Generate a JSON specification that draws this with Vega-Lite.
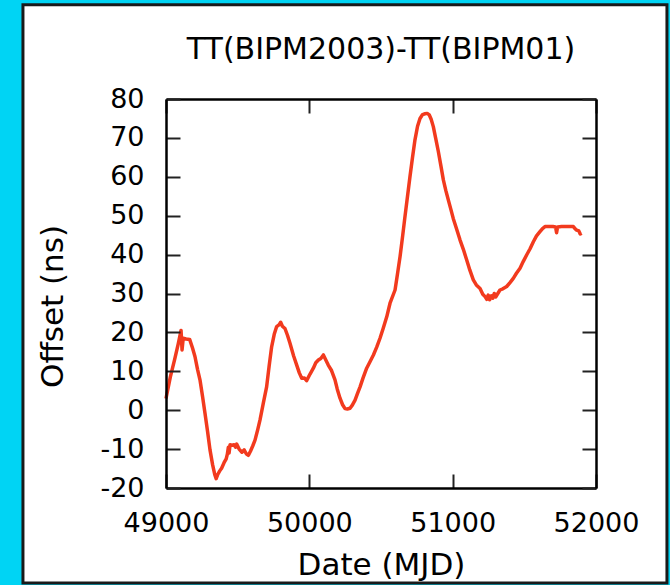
{
  "$schema": "https://vega.github.io/schema/vega-lite/v6.json",
  "width": 430,
  "height": 389,
  "autosize": {"type": "none"},
  "padding": {"left": 166, "top": 99, "right": 74, "bottom": 97},
  "background": "#00d4f4",
  "title": {"text": "TT(BIPM2003)-TT(BIPM01)", "font": "DejaVu Sans", "fontSize": 30, "fontWeight": "normal", "color": "#000000", "offset": 0, "dy": 62, "anchor": "middle", "frame": "group", "zindex": 2},
  "config": {
    "view": {"stroke": null},
    "axis": {"grid": false, "domainColor": "#000000", "domainWidth": 2.5, "tickColor": "#222222", "tickWidth": 2, "tickSize": -14, "labelFont": "DejaVu Sans", "labelFontSize": 27, "labelColor": "#000000", "labelFlush": false, "titleFont": "DejaVu Sans", "titleFontSize": 31, "titleFontWeight": "normal", "titleColor": "#000000"}
  },
  "resolve": {"axis": {"x": "independent", "y": "independent"}},
  "layer": [
    {
      "data": {"values": [{"panel": "frame"}]},
      "mark": {"type": "rect", "fill": "#ffffff", "stroke": "#1a1a1a", "strokeWidth": 3, "zindex": 0},
      "encoding": {
        "x": {"datum": 48002, "type": "quantitative", "scale": {"domain": [49000, 52000], "nice": false, "zero": false}, "axis": {"orient": "top", "labels": false, "title": null, "values": [49000, 50000, 51000, 52000], "zindex": 2}},
        "x2": {"datum": 52495},
        "y": {"datum": 104.2, "type": "quantitative", "scale": {"domain": [-20, 80], "nice": false, "zero": false}, "axis": {"orient": "right", "labels": false, "title": null, "values": [-20, -10, 0, 10, 20, 30, 40, 50, 60, 70, 80], "zindex": 2}},
        "y2": {"datum": -44.4}
      }
    },
    {
      "data": {"values": [
        {"mjd": 49000, "offset": 3}, {"mjd": 49030, "offset": 8.5}, {"mjd": 49060, "offset": 13}, {"mjd": 49085, "offset": 17}, {"mjd": 49105, "offset": 20.5}, {"mjd": 49112, "offset": 15.5}, {"mjd": 49120, "offset": 18.5}, {"mjd": 49140, "offset": 18.3}, {"mjd": 49165, "offset": 18.2}, {"mjd": 49185, "offset": 16}, {"mjd": 49202, "offset": 13.8}, {"mjd": 49220, "offset": 10.5}, {"mjd": 49237, "offset": 7.8}, {"mjd": 49255, "offset": 3.5}, {"mjd": 49272, "offset": -0.8}, {"mjd": 49290, "offset": -5.5}, {"mjd": 49307, "offset": -10.2}, {"mjd": 49325, "offset": -14}, {"mjd": 49340, "offset": -16.5}, {"mjd": 49350, "offset": -17.6}, {"mjd": 49360, "offset": -16.6}, {"mjd": 49375, "offset": -15.6}, {"mjd": 49388, "offset": -14.9}, {"mjd": 49405, "offset": -13.5}, {"mjd": 49420, "offset": -12.5}, {"mjd": 49428, "offset": -11.3}, {"mjd": 49435, "offset": -9.5}, {"mjd": 49440, "offset": -11}, {"mjd": 49447, "offset": -8.9}, {"mjd": 49460, "offset": -9.0}, {"mjd": 49475, "offset": -8.9}, {"mjd": 49485, "offset": -9.5}, {"mjd": 49493, "offset": -8.7}, {"mjd": 49510, "offset": -10.0}, {"mjd": 49530, "offset": -10.8}, {"mjd": 49545, "offset": -10.2}, {"mjd": 49560, "offset": -11.2}, {"mjd": 49575, "offset": -11.6}, {"mjd": 49590, "offset": -10.5}, {"mjd": 49605, "offset": -9.2}, {"mjd": 49621, "offset": -7.7}, {"mjd": 49640, "offset": -5}, {"mjd": 49656, "offset": -2.5}, {"mjd": 49680, "offset": 2}, {"mjd": 49702, "offset": 6.0}, {"mjd": 49720, "offset": 11.5}, {"mjd": 49737, "offset": 16.3}, {"mjd": 49755, "offset": 19.5}, {"mjd": 49772, "offset": 21.5}, {"mjd": 49790, "offset": 22}, {"mjd": 49800, "offset": 22.6}, {"mjd": 49812, "offset": 21.6}, {"mjd": 49830, "offset": 21}, {"mjd": 49848, "offset": 19.2}, {"mjd": 49865, "offset": 17.2}, {"mjd": 49890, "offset": 14}, {"mjd": 49912, "offset": 11.6}, {"mjd": 49930, "offset": 9.6}, {"mjd": 49947, "offset": 8.2}, {"mjd": 49965, "offset": 8.3}, {"mjd": 49981, "offset": 7.6}, {"mjd": 50005, "offset": 9.3}, {"mjd": 50028, "offset": 10.8}, {"mjd": 50045, "offset": 12.2}, {"mjd": 50063, "offset": 12.9}, {"mjd": 50080, "offset": 13.3}, {"mjd": 50098, "offset": 14.2}, {"mjd": 50115, "offset": 12.9}, {"mjd": 50132, "offset": 11.6}, {"mjd": 50155, "offset": 10.2}, {"mjd": 50179, "offset": 7.8}, {"mjd": 50195, "offset": 5.4}, {"mjd": 50214, "offset": 3.1}, {"mjd": 50232, "offset": 1.4}, {"mjd": 50249, "offset": 0.4}, {"mjd": 50265, "offset": 0.3}, {"mjd": 50284, "offset": 0.5}, {"mjd": 50300, "offset": 1.3}, {"mjd": 50319, "offset": 2.6}, {"mjd": 50335, "offset": 4.2}, {"mjd": 50354, "offset": 6.0}, {"mjd": 50375, "offset": 8.3}, {"mjd": 50400, "offset": 10.8}, {"mjd": 50425, "offset": 12.6}, {"mjd": 50447, "offset": 14.2}, {"mjd": 50470, "offset": 16.2}, {"mjd": 50493, "offset": 18.5}, {"mjd": 50515, "offset": 21}, {"mjd": 50540, "offset": 24.0}, {"mjd": 50563, "offset": 27.5}, {"mjd": 50598, "offset": 30.9}, {"mjd": 50615, "offset": 35}, {"mjd": 50633, "offset": 39.5}, {"mjd": 50650, "offset": 44.5}, {"mjd": 50667, "offset": 49.7}, {"mjd": 50685, "offset": 55}, {"mjd": 50702, "offset": 60.0}, {"mjd": 50720, "offset": 65}, {"mjd": 50737, "offset": 69.5}, {"mjd": 50755, "offset": 73}, {"mjd": 50772, "offset": 75.0}, {"mjd": 50790, "offset": 76}, {"mjd": 50807, "offset": 76.2}, {"mjd": 50822, "offset": 76.3}, {"mjd": 50837, "offset": 75.9}, {"mjd": 50850, "offset": 74.8}, {"mjd": 50865, "offset": 72.9}, {"mjd": 50882, "offset": 69.8}, {"mjd": 50900, "offset": 66.5}, {"mjd": 50918, "offset": 62.8}, {"mjd": 50935, "offset": 59.2}, {"mjd": 50952, "offset": 56.5}, {"mjd": 50970, "offset": 54.0}, {"mjd": 50987, "offset": 51.7}, {"mjd": 51004, "offset": 49.3}, {"mjd": 51028, "offset": 46.5}, {"mjd": 51051, "offset": 43.8}, {"mjd": 51075, "offset": 41.3}, {"mjd": 51098, "offset": 38.6}, {"mjd": 51120, "offset": 36}, {"mjd": 51144, "offset": 33.5}, {"mjd": 51165, "offset": 32.2}, {"mjd": 51191, "offset": 31.3}, {"mjd": 51210, "offset": 29.8}, {"mjd": 51226, "offset": 29.2}, {"mjd": 51238, "offset": 28.5}, {"mjd": 51248, "offset": 29.6}, {"mjd": 51258, "offset": 28.4}, {"mjd": 51270, "offset": 29.4}, {"mjd": 51280, "offset": 28.8}, {"mjd": 51290, "offset": 30.0}, {"mjd": 51300, "offset": 29.1}, {"mjd": 51315, "offset": 30.0}, {"mjd": 51330, "offset": 30.9}, {"mjd": 51350, "offset": 31.2}, {"mjd": 51377, "offset": 31.8}, {"mjd": 51400, "offset": 32.8}, {"mjd": 51423, "offset": 33.9}, {"mjd": 51445, "offset": 35.2}, {"mjd": 51470, "offset": 36.5}, {"mjd": 51492, "offset": 38.2}, {"mjd": 51516, "offset": 39.9}, {"mjd": 51540, "offset": 41.5}, {"mjd": 51563, "offset": 43.3}, {"mjd": 51585, "offset": 44.8}, {"mjd": 51609, "offset": 45.9}, {"mjd": 51627, "offset": 46.7}, {"mjd": 51644, "offset": 47.2}, {"mjd": 51670, "offset": 47.2}, {"mjd": 51700, "offset": 47.2}, {"mjd": 51718, "offset": 47.1}, {"mjd": 51725, "offset": 45.6}, {"mjd": 51732, "offset": 47.1}, {"mjd": 51760, "offset": 47.2}, {"mjd": 51800, "offset": 47.2}, {"mjd": 51842, "offset": 47.2}, {"mjd": 51855, "offset": 46.6}, {"mjd": 51865, "offset": 46.3}, {"mjd": 51880, "offset": 46.1}, {"mjd": 51890, "offset": 45.3}, {"mjd": 51900, "offset": 45.5}
      ]},
      "mark": {"type": "line", "color": "#f23a1e", "strokeWidth": 3.5, "strokeJoin": "round", "zindex": 1},
      "encoding": {
        "x": {"field": "mjd", "type": "quantitative", "axis": {"orient": "bottom", "title": "Date (MJD)", "values": [49000, 50000, 51000, 52000], "format": "d", "labelPadding": 36, "titlePadding": 14, "zindex": 2}},
        "y": {"field": "offset", "type": "quantitative", "axis": {"orient": "left", "title": "Offset (ns)", "values": [-20, -10, 0, 10, 20, 30, 40, 50, 60, 70, 80], "labelExpr": "datum.value + ''", "labelPadding": 36, "titlePadding": 30, "titleY": 207, "zindex": 2}}
      }
    }
  ]
}
